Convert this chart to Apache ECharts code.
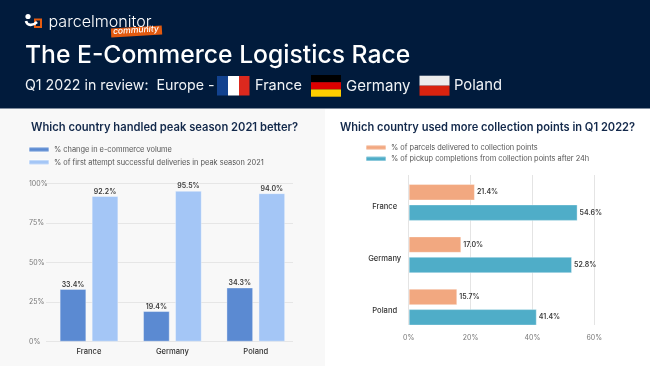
<!DOCTYPE html>
<html><head><meta charset="utf-8">
<style>html,body{margin:0;padding:0;background:#fff}#c{width:650px;height:366px}</style>
<script src="https://cdn.jsdelivr.net/npm/echarts@6/dist/echarts.min.js"></script>
</head><body><div id="c"></div>
<script>
const countries = ['France','Germany','Poland'];
const ecommerceVolume = [33.4,19.4,34.3];
const firstAttempt = [92.2,95.5,94.0];
const parcelsToPoints = [21.4,17.0,15.7];
const pickupCompletions = [54.6,52.8,41.4];
const leftName1 = '% change in e-commerce volume';
const leftName2 = '% of first attempt successful deliveries in peak season 2021';
const rightName1 = '% of parcels delivered to collection points';
const rightName2 = '% of pickup completions from collection points after 24h';
const FONT = 'Inter, "Open Sans", sans-serif';
const NAVY = '#011b3c';
const pct = v => v.toFixed(1) + '%';
const valLabel = (pos, dist) => ({show:true, position:pos, distance:dist, fontFamily:FONT, fontSize:7, fontWeight:600, color:'#3a3a3a',
  formatter:p=>pct(p.value)});
const txt = (x,y,text,size,weight,fill,extra,el) => Object.assign({type:'text', x, y, z:20, style:Object.assign({text, fontFamily:FONT, fontSize:size, fontWeight:weight, fill, verticalAlign:'middle'},extra||{})},el||{});
const rect = (x,y,w,h,fill,z,extra) => Object.assign({type:'rect', x, y, z:z||10, shape:{x:0,y:0,width:w,height:h}, style:{fill}, silent:true},extra||{});
const edge = {borderColor:'rgba(255,255,255,0.35)', borderWidth:1};

const chart = echarts.init(document.getElementById('c'), null, {renderer:'canvas'});
chart.setOption({
  animation:false,
  backgroundColor:'#ffffff',
  textStyle:{fontFamily:FONT},
  grid:[
    {left:46, width:247, top:183.7, height:158},
    {left:47.3, width:250.2, top:183.7, height:158},
    {left:408.7, width:185.6, top:175, height:150},
    {left:408.7, width:185.6, top:176.3, height:157}
  ],
  legend:[
    {data:[leftName1,leftName2], left:28, top:146, padding:0, orient:'vertical', itemWidth:20, itemHeight:4.5, itemGap:5.8, icon:'roundRect', selectedMode:false,
      textStyle:{fontFamily:FONT, fontSize:7.4, color:'#555'}},
    {data:[rightName1,rightName2], left:365, top:144, padding:0, orient:'vertical', itemWidth:20, itemHeight:4.5, itemGap:4.3, icon:'roundRect', selectedMode:false,
      textStyle:{fontFamily:FONT, fontSize:7.4, color:'#555'}}
  ],
  xAxis:[
    {gridIndex:0, type:'category', data:countries, show:false},
    {gridIndex:1, type:'category', data:countries, axisLine:{show:false}, axisTick:{show:false},
      axisLabel:{fontFamily:FONT, fontSize:7.6, fontWeight:500, color:'#333', margin:6}},
    {gridIndex:2, type:'value', min:0, max:60, interval:20, axisLine:{show:false}, axisTick:{show:false},
      splitLine:{show:true,lineStyle:{color:'#e4e4e4',width:1}},
      axisLabel:{fontFamily:FONT, fontSize:7, color:'#777', margin:9, formatter:'{value}%'}},
    {gridIndex:3, type:'value', min:0, max:60, interval:20, show:false}
  ],
  yAxis:[
    {gridIndex:0, type:'value', min:0, max:100, interval:25, axisLine:{show:false}, axisTick:{show:false},
      splitLine:{show:true,lineStyle:{color:'#e6e6e6',width:1.2}},
      axisLabel:{fontFamily:FONT, fontSize:7, color:'#777', align:'left', margin:17, formatter:'{value}%'}},
    {gridIndex:1, type:'value', min:0, max:100, interval:25, show:false},
    {gridIndex:2, type:'category', data:countries, show:false, inverse:true},
    {gridIndex:3, type:'category', data:countries, inverse:true, axisLine:{show:false}, axisTick:{show:false},
      axisLabel:{fontFamily:FONT, fontSize:7.6, fontWeight:500, color:'#333', align:'center', verticalAlign:'top', margin:24}}
  ],
  series:[
    {name:leftName1, type:'bar', xAxisIndex:1, yAxisIndex:1, data:ecommerceVolume, barGap:'20%', barCategoryGap:'29.6%',
      itemStyle:Object.assign({color:'#5b8ad2'},edge), label:valLabel('top',1)},
    {name:leftName2, type:'bar', xAxisIndex:1, yAxisIndex:1, data:firstAttempt,
      itemStyle:Object.assign({color:'#a4c6f6'},edge), label:valLabel('top',1)},
    {name:rightName1, type:'bar', xAxisIndex:3, yAxisIndex:3, data:parcelsToPoints, barGap:'24%', barCategoryGap:'29.6%',
      itemStyle:Object.assign({color:'#f2a880'},edge), label:valLabel('right',2)},
    {name:rightName2, type:'bar', xAxisIndex:3, yAxisIndex:3, data:pickupCompletions,
      itemStyle:Object.assign({color:'#4fadc8'},edge), label:valLabel('right',2)}
  ],
  graphic:{elements:[
    rect(0,109,325,257,'#f8f8f8',-10),
    rect(0,0,650,108.5,NAVY,-9),
    // logo
    {type:'circle', x:28, y:16.5, z:10, shape:{r:2.6}, style:{fill:'#fff'}, silent:true},
    {type:'bezierCurve', z:10, silent:true, shape:{x1:26,y1:21,cpx1:27,cpy1:26,cpx2:33,cpy2:26,x2:37,y2:22}, style:{fill:'none', stroke:'#fff', lineWidth:2.6}},
    {type:'rect', x:35, y:19.5, z:9, silent:true, shape:{x:0,y:0,width:6,height:7.5}, style:{fill:'none', stroke:'#e65c10', lineWidth:2}},
    txt(48.5,22.5,'parcelmonitor',16.1,300,'#ffffff'),
    rect(111,27,51,9,'#e35a0f',11,{rotation:0.06,originX:25,originY:4.5}),
    txt(113,31.5,'community',8.6,500,'#ffffff',{fontStyle:'italic'},{rotation:0.06}),
    txt(25,56,'The E-Commerce Logistics Race',24.7,500,'#ffffff'),
    txt(25,86,'Q1 2022 in review:  Europe -',14.2,400,'#f0f3f6'),
    rect(217,76,11,19.5,'#12428f'),rect(228,76,11,19.5,'#ffffff'),rect(239,76,10.5,19.5,'#dc291e'),
    txt(255,86,'France',14.5,400,'#f0f3f6'),
    rect(311,75,30,7.2,'#000000'),rect(311,82.2,30,7.2,'#dd0000'),rect(311,89.4,30,7.3,'#ffce00'),
    txt(346,86,'Germany',15,400,'#f0f3f6'),
    rect(419.5,75.7,30,10,'#ececec'),rect(419.5,85.7,30,10,'#d9230f'),
    txt(454,86,'Poland',14.8,400,'#f0f3f6'),
    txt(31,127.5,'Which country handled peak season 2021 better?',11.2,600,'#13294b'),
    txt(340,127.5,'Which country used more collection points in Q1 2022?',11.1,600,'#13294b')
  ]}
});
</script></body></html>
